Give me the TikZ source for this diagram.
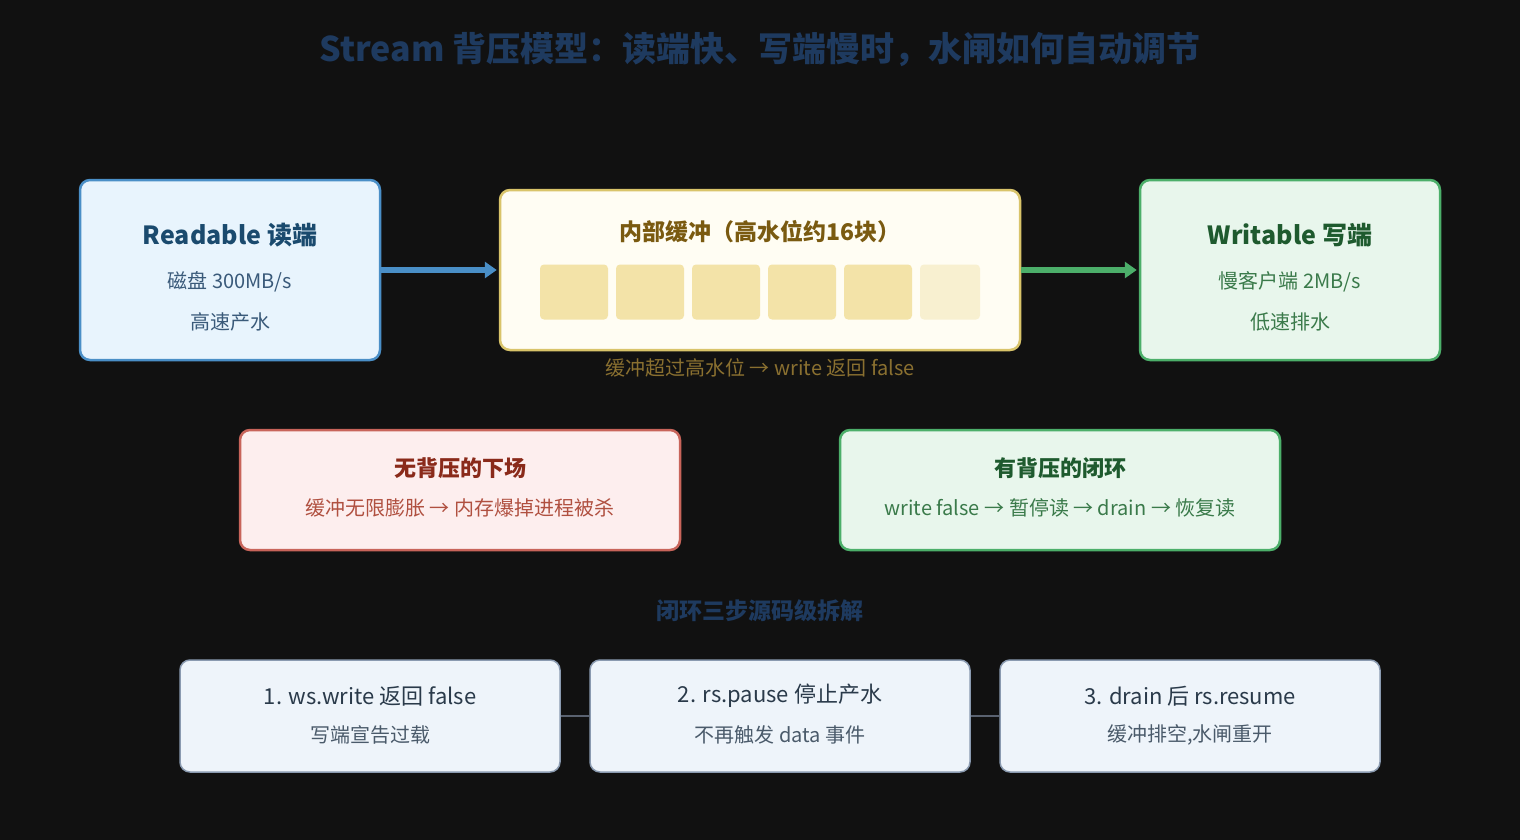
\documentclass[tikz,border=0pt]{standalone}
\usepackage{fontspec}
\setmainfont{Noto Sans CJK SC}
\usetikzlibrary{arrows.meta}
\definecolor{bg}{HTML}{111111}
\definecolor{ttl}{HTML}{1E3A5F}
\definecolor{rfill}{HTML}{E8F4FD}\definecolor{rline}{HTML}{4A8FC7}
\definecolor{rtxt}{HTML}{1A4A6E}\definecolor{rsub}{HTML}{3A5A7A}
\definecolor{bfill}{HTML}{FFFDF3}\definecolor{bline}{HTML}{D9C46A}
\definecolor{btxt}{HTML}{7A5A10}\definecolor{blk}{HTML}{F3E3A8}\definecolor{blkl}{HTML}{F8F0D0}
\definecolor{bcap}{HTML}{8A7030}
\definecolor{gfill}{HTML}{E8F6EC}\definecolor{gline}{HTML}{4CAF6A}
\definecolor{gtxt}{HTML}{1E5A2E}\definecolor{gsub}{HTML}{3A7A4A}
\definecolor{pfill}{HTML}{FDEEEE}\definecolor{pline}{HTML}{C8645A}
\definecolor{ptxt}{HTML}{8A2A1A}\definecolor{psub}{HTML}{B05040}
\definecolor{sfill}{HTML}{EEF4FA}\definecolor{sline}{HTML}{8A9AB0}
\definecolor{stxt}{HTML}{2A3A4A}\definecolor{ssub}{HTML}{4A5A6A}
\definecolor{conn}{HTML}{5A6270}
\tikzset{
 box/.style={draw, line width=2.5pt, rounded corners=10pt, inner sep=0pt},
 t/.style={inner sep=0pt, anchor=center},
 blkst/.style={fill=blk, rounded corners=4pt, inner sep=0pt, minimum width=68pt, minimum height=55pt},
 stepbox/.style={box, fill=sfill, draw=sline, line width=1.5pt, minimum width=380pt, minimum height=112pt},
}
\begin{document}
\begin{tikzpicture}[x=1pt,y=-1pt]
\fill[bg] (0,0) rectangle (1520,840);
\useasboundingbox (0,0) rectangle (1520,840);
\node[t, text=ttl, font=\bfseries\fontsize{34}{40}\selectfont] (title) at (760,50) {Stream 背压模型：读端快、写端慢时，水闸如何自动调节};
% readable
\node[box, fill=rfill, draw=rline, minimum width=300pt, minimum height=180pt] (rd) at (230,270) {};
\node[t, text=rtxt, font=\bfseries\fontsize{25}{30}\selectfont] (rd1) at (230,235) {Readable 读端};
\node[t, text=rsub, font=\fontsize{20}{24}\selectfont] (rd2) at (230,282) {磁盘 300MB/s};
\node[t, text=rsub, font=\fontsize{20}{24}\selectfont] (rd3) at (230,322) {高速产水};
% buffer
\node[box, fill=bfill, draw=bline, minimum width=520pt, minimum height=160pt] (bf) at (760,270) {};
\node[t, text=btxt, font=\bfseries\fontsize{23}{28}\selectfont] (bf1) at (760,232) {内部缓冲（高水位约16块）};
\foreach \x/\n in {574/b1,650/b2,726/b3,802/b4,878/b5} \node[blkst] (\n) at (\x,292) {};
\node[blkst, fill=blkl, minimum width=60pt] (b6) at (950,292) {};
\node[t, text=bcap, font=\fontsize{20}{24}\selectfont] (cap) at (760,368) {缓冲超过高水位 → write 返回 false};
% writable
\node[box, fill=gfill, draw=gline, minimum width=300pt, minimum height=180pt] (wr) at (1290,270) {};
\node[t, text=gtxt, font=\bfseries\fontsize{25}{30}\selectfont] (wr1) at (1290,235) {Writable 写端};
\node[t, text=gsub, font=\fontsize{20}{24}\selectfont] (wr2) at (1290,282) {慢客户端 2MB/s};
\node[t, text=gsub, font=\fontsize{20}{24}\selectfont] (wr3) at (1290,322) {低速排水};
\draw[rline, line width=6pt, -{Triangle[length=12pt,width=16pt]}] (rd.east) -- ([xshift=-2pt]bf.west);
\draw[gline, line width=6pt, -{Triangle[length=12pt,width=16pt]}] (bf.east) -- ([xshift=-2pt]wr.west);
% outcome boxes
\node[box, fill=pfill, draw=pline, minimum width=440pt, minimum height=120pt] (no) at (460,490) {};
\node[t, text=ptxt, font=\bfseries\fontsize{22}{26}\selectfont] (no1) at (460,468) {无背压的下场};
\node[t, text=psub, font=\fontsize{20}{24}\selectfont] (no2) at (460,508) {缓冲无限膨胀 → 内存爆掉进程被杀};
\node[box, fill=gfill, draw=gline, minimum width=440pt, minimum height=120pt] (yes) at (1060,490) {};
\node[t, text=gtxt, font=\bfseries\fontsize{22}{26}\selectfont] (yes1) at (1060,468) {有背压的闭环};
\node[t, text=gsub, font=\fontsize{20}{24}\selectfont] (yes2) at (1060,508) {write false → 暂停读 → drain → 恢复读};
\node[t, text=ttl, font=\bfseries\fontsize{23}{28}\selectfont] (sub) at (760,611) {闭环三步源码级拆解};
% steps
\node[stepbox] (s1) at (370,716) {};
\node[stepbox] (s2) at (780,716) {};
\node[stepbox] (s3) at (1190,716) {};
\draw[conn, line width=2pt] (s1.east) -- (s2.west);
\draw[conn, line width=2pt] (s2.east) -- (s3.west);
\node[t, text=stxt, font=\fontsize{22}{26}\selectfont] (s1a) at (370,696) {1. ws.write 返回 false};
\node[t, text=ssub, font=\fontsize{20}{24}\selectfont] (s1b) at (370,735) {写端宣告过载};
\node[t, text=stxt, font=\fontsize{22}{26}\selectfont] (s2a) at (780,696) {2. rs.pause 停止产水};
\node[t, text=ssub, font=\fontsize{20}{24}\selectfont] (s2b) at (780,735) {不再触发 data 事件};
\node[t, text=stxt, font=\fontsize{22}{26}\selectfont] (s3a) at (1190,696) {3. drain 后 rs.resume};
\node[t, text=ssub, font=\fontsize{20}{24}\selectfont] (s3b) at (1190,735) {缓冲排空,水闸重开};
\end{tikzpicture}
\end{document}
